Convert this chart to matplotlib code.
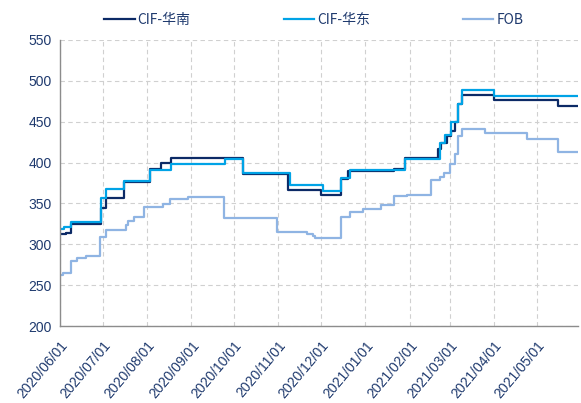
import numpy as np
import pandas as pd
import matplotlib
matplotlib.use("Agg")
import matplotlib.pyplot as plt
import matplotlib.dates as mdates

# change points (value holds until next date)
south_dates = ["2020-06-01", "2020-06-05", "2020-06-09", "2020-06-30", "2020-07-03",
               "2020-07-16", "2020-08-03", "2020-08-11", "2020-08-18", "2020-10-07",
               "2020-11-08", "2020-12-01", "2020-12-15", "2020-12-20", "2021-01-21",
               "2021-01-29", "2021-02-21", "2021-02-23", "2021-02-27", "2021-03-02",
               "2021-03-05", "2021-03-07", "2021-03-10", "2021-04-01", "2021-05-16",
               "2021-05-30"]
south_vals = [312, 314, 325, 344, 357, 376, 392, 399, 406, 386, 367, 360, 380, 390, 392,
              405, 417, 424, 432, 438, 450, 472, 483, 476, 469, 469]

east_dates = ["2020-06-01", "2020-06-04", "2020-06-09", "2020-06-30", "2020-07-03",
              "2020-07-16", "2020-08-03", "2020-08-18", "2020-09-25", "2020-10-07",
              "2020-11-09", "2020-12-02", "2020-12-15", "2020-12-21", "2021-01-29",
              "2021-02-22", "2021-02-26", "2021-03-02", "2021-03-07", "2021-03-10",
              "2021-04-01", "2021-05-30"]
east_vals = [319, 321, 327, 357, 368, 378, 391, 398, 404, 387, 373, 365, 381, 391, 404,
             424, 434, 449, 472, 489, 481, 481]

fob_dates = ["2020-06-01", "2020-06-03", "2020-06-09", "2020-06-13", "2020-06-19",
             "2020-06-29", "2020-07-03", "2020-07-17", "2020-07-19", "2020-07-23",
             "2020-07-30", "2020-08-12", "2020-08-17", "2020-08-30", "2020-09-24",
             "2020-10-31", "2020-11-21", "2020-11-25", "2020-11-27", "2020-12-15",
             "2020-12-21", "2020-12-30", "2021-01-12", "2021-01-21", "2021-01-30",
             "2021-02-16", "2021-02-22", "2021-02-25", "2021-03-01", "2021-03-05",
             "2021-03-07", "2021-03-10", "2021-03-26", "2021-04-24", "2021-05-16",
             "2021-05-30"]
fob_vals = [263, 265, 280, 283, 286, 309, 317, 324, 328, 333, 346, 349, 355, 358, 332,
            315, 313, 310, 308, 333, 340, 343, 348, 359, 360, 379, 382, 387, 398, 411,
            432, 441, 436, 429, 413, 413]

series = [
    ("CIF-华南", south_dates, south_vals, "#0c2a66"),
    ("CIF-华东", east_dates, east_vals, "#00a3e6"),
    ("FOB", fob_dates, fob_vals, "#8fb4e3"),
]

tick_dates = pd.date_range("2020-06-01", "2021-05-01", freq="MS")
navy = "#1f3a6e"

fig = plt.figure(figsize=(5.81, 4.03), dpi=100)
ax = fig.add_axes([0.103, 0.191, 0.892, 0.71])

handles = []
for name, d, v, c in series:
    h, = ax.step(pd.to_datetime(d), v, where="post", color=c, lw=1.6, label=name)
    handles.append(h)

ax.set_xlim(pd.Timestamp("2020-06-01"), pd.Timestamp("2021-05-30"))
ax.set_ylim(200, 550)
ax.set_yticks(np.arange(200, 551, 50))
ax.set_xticks(tick_dates)
ax.xaxis.set_major_formatter(mdates.DateFormatter("%Y/%m/%d"))

ax.grid(True, color="#d0d0d0", linestyle=(0, (4, 3)), lw=0.8)
ax.set_axisbelow(True)
for s in ["top", "right"]:
    ax.spines[s].set_visible(False)
for s in ["left", "bottom"]:
    ax.spines[s].set_color("#8c8c8c")
    ax.spines[s].set_linewidth(1.0)

ax.tick_params(axis="y", length=0, pad=6, labelsize=10, labelcolor=navy)
ax.tick_params(axis="x", length=0, pad=9, labelsize=10, labelcolor=navy)
for lab in ax.get_yticklabels() + ax.get_xticklabels():
    lab.set_family("Liberation Sans")
for lab in ax.get_xticklabels():
    lab.set_rotation(50)
    lab.set_ha("right")
    lab.set_rotation_mode("anchor")

leg = fig.legend(handles=handles, loc="upper center", bbox_to_anchor=(0.54, 1.0),
                 ncol=3, frameon=False, columnspacing=6.7, handlelength=2.2,
                 handletextpad=0.2,
                 prop={"family": ["Liberation Sans Narrow", "Noto Sans CJK SC"], "size": 10})
for t in leg.get_texts():
    t.set_color(navy)

fig.savefig("out.png", dpi=100)
